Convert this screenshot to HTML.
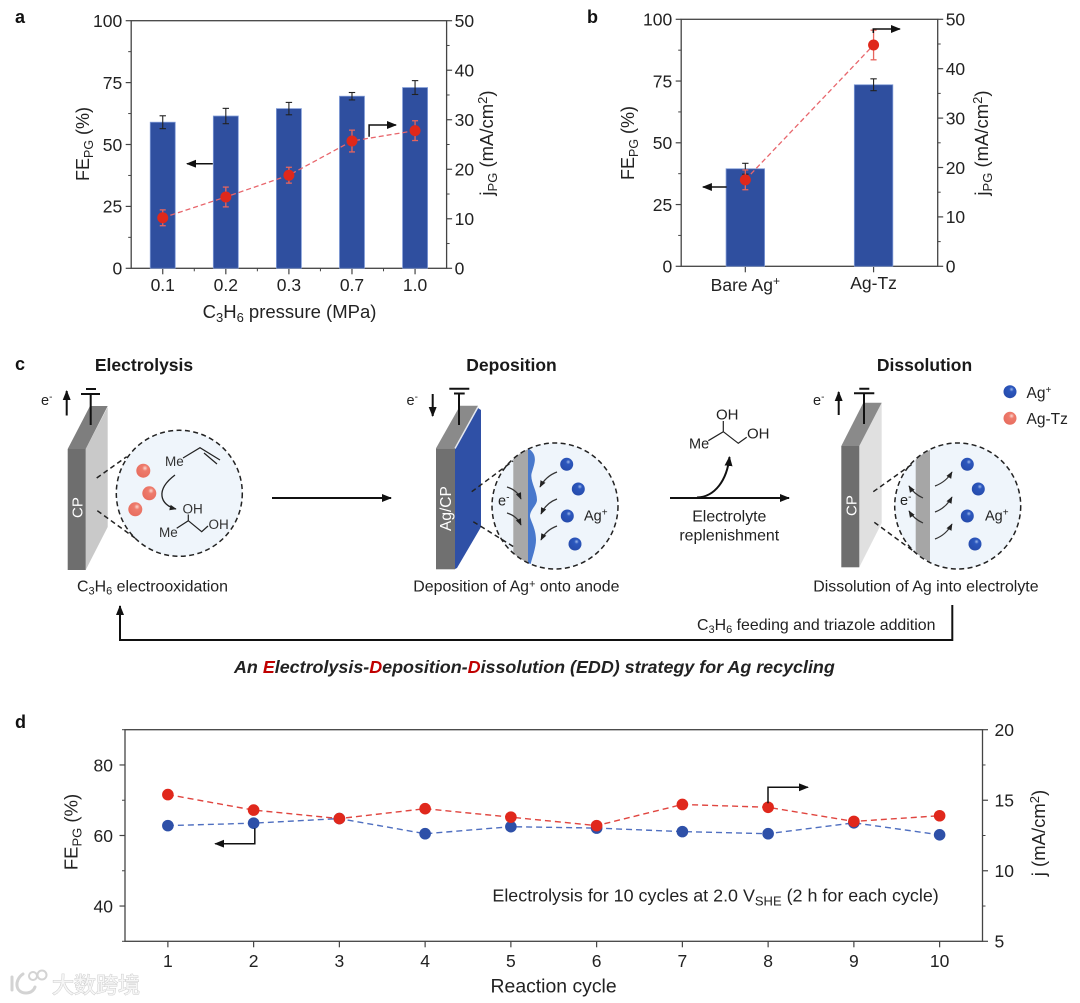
<!DOCTYPE html>
<html lang="en">
<head>
<meta charset="utf-8">
<title>Electrolysis-Deposition-Dissolution strategy for Ag recycling</title>
<style>
html,body{margin:0;padding:0;background:#fff;}
svg{display:block;filter:blur(0.35px);}
text{font-family:"Liberation Sans","Noto Sans CJK SC",sans-serif;fill:#222;}
.pl{font-size:18px;font-weight:bold;fill:#111;}
.h{font-size:17.5px;font-weight:bold;text-anchor:middle;fill:#1a1a1a;}
.cap{font-size:15.9px;fill:#222;}
.t{font-size:14px;fill:#333;}
.ln{stroke:#222;fill:none;stroke-width:1.2;}
.dash{stroke:#222;fill:none;stroke-width:1.5;stroke-dasharray:5 3.4;}
.arr{stroke:#111;fill:none;stroke-width:1.5;marker-end:url(#head);}
.sm{stroke:#333;fill:none;stroke-width:1.2;marker-end:url(#headS);}
</style>
</head>
<body>
<svg id="figure" xmlns="http://www.w3.org/2000/svg" width="1080" height="1003" viewBox="0 0 1080 1003">
<defs>
<marker id="head" viewBox="0 0 10 8" refX="9" refY="4" markerWidth="10" markerHeight="8" markerUnits="userSpaceOnUse" orient="auto"><path d="M0 0L10 4L0 8Z" fill="#111"/></marker>
<marker id="headS" viewBox="0 0 10 8" refX="9" refY="4" markerWidth="7" markerHeight="6" markerUnits="userSpaceOnUse" orient="auto"><path d="M0 0L10 4L0 8Z" fill="#222"/></marker>
<clipPath id="clipDep"><circle cx="555" cy="506" r="63"/></clipPath>
<clipPath id="clipDis"><circle cx="957.7" cy="506" r="62.5"/></clipPath>
<radialGradient id="gBlue" cx="0.62" cy="0.32" r="0.8"><stop offset="0" stop-color="#9db8ea"/><stop offset="0.22" stop-color="#2c57bd"/><stop offset="1" stop-color="#2549a8"/></radialGradient>
<radialGradient id="gPink" cx="0.62" cy="0.32" r="0.8"><stop offset="0" stop-color="#fbd9d2"/><stop offset="0.25" stop-color="#ee7b6c"/><stop offset="1" stop-color="#e66a5c"/></radialGradient>
</defs>

<text class="pl" x="15" y="23">a</text>
<text class="pl" x="587" y="23">b</text>
<text class="pl" x="15" y="370">c</text>
<text class="pl" x="15" y="728">d</text>

<g id="chart-a"></g>
<g id="chart-b"></g>
<g id="chart-d"></g>

<!-- chart titles and annotations -->
<g>
<text x="289.5" y="318" font-size="18.5" text-anchor="middle">C<tspan font-size="13" dy="4">3</tspan><tspan dy="-4">H</tspan><tspan font-size="13" dy="4">6</tspan><tspan dy="-4"> pressure (MPa)</tspan></text>
<text transform="translate(89 144) rotate(-90)" font-size="18" text-anchor="middle">FE<tspan font-size="12.5" dy="4">PG</tspan><tspan dy="-4"> (%)</tspan></text>
<text transform="translate(493 143) rotate(-90)" font-size="18.5" text-anchor="middle">j<tspan font-size="13" dy="4">PG</tspan><tspan dy="-4"> (mA/cm</tspan><tspan font-size="13" dy="-6">2</tspan><tspan dy="6">)</tspan></text>
<path class="arr" d="M212.8 163.7H187"/>
<path class="arr" d="M369.1 136.7V125H396"/>
</g>
<g>
<text transform="translate(634 143) rotate(-90)" font-size="18" text-anchor="middle">FE<tspan font-size="12.5" dy="4">PG</tspan><tspan dy="-4"> (%)</tspan></text>
<text transform="translate(988 143) rotate(-90)" font-size="18.5" text-anchor="middle">j<tspan font-size="13" dy="4">PG</tspan><tspan dy="-4"> (mA/cm</tspan><tspan font-size="13" dy="-6">2</tspan><tspan dy="6">)</tspan></text>
<path class="arr" d="M726.6 187H702.9"/>
<path class="arr" d="M873.3 33V29H899.9"/>
</g>
<g>
<text x="553.6" y="992.5" font-size="19.4" text-anchor="middle">Reaction cycle</text>
<text transform="translate(77.5 832) rotate(-90)" font-size="18.5" text-anchor="middle">FE<tspan font-size="13" dy="4">PG</tspan><tspan dy="-4"> (%)</tspan></text>
<text transform="translate(1045 833) rotate(-90)" font-size="18.5" text-anchor="middle">j (mA/cm<tspan font-size="13" dy="-6">2</tspan><tspan dy="6">)</tspan></text>
<text x="492.4" y="901.7" font-size="17.9">Electrolysis for 10 cycles at 2.0 V<tspan font-size="13" dy="4">SHE</tspan><tspan dy="-4"> (2 h for each cycle)</tspan></text>
<path class="arr" d="M254.8 828.3V843.7H215.2"/>
<path class="arr" d="M768 803.3V787.3H807.9"/>
</g>

<!-- Scheme c: electrolysis -->
<g>
<text class="h" x="144" y="371">Electrolysis</text>
<path d="M85.7 449L107.7 407V527L85.7 570Z" fill="#c9c9c9"/>
<path d="M67.7 449L90 406H107.7L85.7 449Z" fill="#7e7e7e"/>
<rect x="67.7" y="449" width="18" height="121" fill="#6e6e6e"/>
<text transform="translate(82.5 518) rotate(-90)" font-size="15" style="fill:#fff">CP</text>
<path d="M90.7 394V425M81 394H100M86 389H96" stroke="#111" stroke-width="2" fill="none"/>
<text x="41" y="405" font-size="14.5">e<tspan font-size="10" dy="-5">-</tspan></text>
<path d="M66.7 415.5V391" stroke="#111" stroke-width="2" fill="none" marker-end="url(#head)"/>
<circle cx="179.3" cy="493.3" r="63" fill="#eff5fb"/>
<circle class="dash" cx="179.3" cy="493.3" r="63"/>
<path class="dash" d="M96.7 478L126.7 456.7M97.3 510.7L135 538"/>
<circle cx="143.3" cy="470.7" r="7" fill="url(#gPink)"/>
<circle cx="149.3" cy="493.3" r="7" fill="url(#gPink)"/>
<circle cx="135.3" cy="509.3" r="7" fill="url(#gPink)"/>
<text class="t" x="165" y="466" style="font-size:13.5px">Me</text>
<path class="ln" d="M183 458L200 447.7L220 460M204 453L217 464"/>
<path d="M175 475C155 490 160 505 176 509" stroke="#222" stroke-width="1.3" fill="none" marker-end="url(#headS)"/>
<text class="t" x="182.5" y="513.5" style="font-size:13.5px">OH</text>
<text class="t" x="159" y="537" style="font-size:13.5px">Me</text>
<text class="t" x="208.5" y="529" style="font-size:13.5px">OH</text>
<path class="ln" d="M176.7 528.3L188.3 520.7L201.7 531.7L208 526M188.3 520.7V514.5"/>
<text class="cap" x="77" y="591.7">C<tspan font-size="11" dy="3">3</tspan><tspan dy="-3">H</tspan><tspan font-size="11" dy="3">6</tspan><tspan dy="-3"> electrooxidation</tspan></text>
</g>

<path class="arr" style="stroke-width:2" d="M272 498H391"/>

<!-- Scheme c: deposition -->
<g>
<text class="h" x="511.5" y="371">Deposition</text>
<path d="M455 448.5L478 408L481 410V527L457 568L455 569Z" fill="#2f50a6"/>
<path d="M436 448.3L460 405.7H478L455 448.3Z" fill="#8a8a8a"/>
<path d="M455 448.5L478 407" stroke="#e4e8f0" stroke-width="1.5" fill="none"/>
<rect x="436" y="448.3" width="19" height="121" fill="#707070"/>
<text transform="translate(451 531) rotate(-90)" font-size="15.5" style="fill:#fff">Ag/CP</text>
<path d="M459 393V425M454 393.5H464.7M449.3 388.7H469.3" stroke="#111" stroke-width="2" fill="none"/>
<text x="406.5" y="405" font-size="14.5">e<tspan font-size="10" dy="-5">-</tspan></text>
<path d="M432.7 394V416" stroke="#111" stroke-width="2" fill="none" marker-end="url(#head)"/>
<circle cx="555" cy="506" r="63" fill="#eff5fb"/>
<g clip-path="url(#clipDep)">
<rect x="513.3" y="440" width="15" height="130" fill="#a8a8a8"/>
<path d="M528 440V570H529C532 558 536 548 536 540C536 528 530 520 530 516C530 510 537 505 537 500C537 490 529 480 532 472C535 462 538 455 528 448Z" fill="#4878cc"/>
</g>
<circle class="dash" cx="555" cy="506" r="63"/>
<path class="dash" d="M471.7 491.7L513 461M473.3 521.7L514 547"/>
<circle cx="566.7" cy="464.3" r="6.5" fill="url(#gBlue)"/>
<circle cx="578.3" cy="489" r="6.5" fill="url(#gBlue)"/>
<circle cx="567.3" cy="516" r="6.5" fill="url(#gBlue)"/>
<circle cx="575" cy="544" r="6.5" fill="url(#gBlue)"/>
<text x="584" y="520.7" font-size="14.5">Ag<tspan font-size="10" dy="-5">+</tspan></text>
<text x="498" y="505.7" font-size="14.5">e<tspan font-size="10" dy="-5">-</tspan></text>
<path class="sm" d="M557 472Q546 476 540 487"/>
<path class="sm" d="M557 499Q546 503 541 514"/>
<path class="sm" d="M557 526Q546 530 541 540"/>
<path class="sm" d="M507 487Q517 490 521 499"/>
<path class="sm" d="M507 513Q517 516 521 525"/>
<text class="cap" x="413.3" y="591.7">Deposition of Ag<tspan font-size="11" dy="-4">+</tspan><tspan dy="4"> onto anode</tspan></text>
</g>

<!-- Scheme c: replenishment -->
<g>
<path class="arr" style="stroke-width:2" d="M670 498H789"/>
<path d="M697 497.5C715 497 727 480 729.5 457" stroke="#111" stroke-width="2" fill="none" marker-end="url(#head)"/>
<text x="716" y="419.5" font-size="15">OH</text>
<text x="689" y="448.5" font-size="14.5">Me</text>
<text x="747" y="438.5" font-size="15">OH</text>
<path class="ln" d="M708.3 440.7L723.3 431.7L738.3 443.3L746.7 437.3M723.3 431.7V421"/>
<text class="cap" x="729.3" y="521.7" text-anchor="middle">Electrolyte</text>
<text class="cap" x="729.3" y="540.7" text-anchor="middle">replenishment</text>
</g>

<!-- Scheme c: dissolution -->
<g>
<text class="h" x="924.5" y="371">Dissolution</text>
<path d="M859.3 446L881.7 402.7V523L859.3 567.3Z" fill="#e0e0e0"/>
<path d="M841.3 446L863.3 402.7H881.7L859.3 446Z" fill="#8a8a8a"/>
<rect x="841.3" y="446" width="18" height="121.3" fill="#6e6e6e"/>
<text transform="translate(856.7 516) rotate(-90)" font-size="15" style="fill:#fff">CP</text>
<path d="M864 393V424M854 393.3H874.3M859.3 388.7H869.3" stroke="#111" stroke-width="2" fill="none"/>
<text x="813" y="405" font-size="14.5">e<tspan font-size="10" dy="-5">-</tspan></text>
<path d="M838.7 415V392" stroke="#111" stroke-width="2" fill="none" marker-end="url(#head)"/>
<circle cx="957.7" cy="506" r="63" fill="#eff5fb"/>
<g clip-path="url(#clipDis)"><rect x="915.7" y="440" width="14.3" height="130" fill="#a6a6a6"/></g>
<circle class="dash" cx="957.7" cy="506" r="63"/>
<path class="dash" d="M873.3 491.7L913.3 463.3M874.3 522.3L913.3 551"/>
<circle cx="967.3" cy="464.3" r="6.5" fill="url(#gBlue)"/>
<circle cx="978.3" cy="489" r="6.5" fill="url(#gBlue)"/>
<circle cx="967.3" cy="516" r="6.5" fill="url(#gBlue)"/>
<circle cx="975" cy="544" r="6.5" fill="url(#gBlue)"/>
<text x="985" y="520.7" font-size="14.5">Ag<tspan font-size="10" dy="-5">+</tspan></text>
<text x="900" y="505" font-size="14.5">e<tspan font-size="10" dy="-5">-</tspan></text>
<path class="sm" d="M935 486Q946 482 952 472"/>
<path class="sm" d="M935 512Q946 508 952 497"/>
<path class="sm" d="M935 539Q946 535 952 524"/>
<path class="sm" d="M923 498Q914 494 909 486"/>
<path class="sm" d="M923 523Q914 519 909 511"/>
<text class="cap" x="813.3" y="591.7">Dissolution of Ag into electrolyte</text>
<circle cx="1010" cy="391.7" r="6.5" fill="url(#gBlue)"/>
<text x="1026.5" y="398" font-size="15.5">Ag<tspan font-size="10" dy="-5">+</tspan></text>
<circle cx="1010" cy="418.3" r="6.5" fill="url(#gPink)"/>
<text x="1026.5" y="424" font-size="15.5">Ag-Tz</text>
</g>

<path d="M952.3 605V640H120V606" stroke="#111" stroke-width="2" fill="none" marker-end="url(#head)"/>
<text class="cap" x="697" y="630">C<tspan font-size="11" dy="3">3</tspan><tspan dy="-3">H</tspan><tspan font-size="11" dy="3">6</tspan><tspan dy="-3"> feeding and triazole addition</tspan></text>
<text x="234" y="673" font-size="17.9" font-weight="bold" font-style="italic">An <tspan style="fill:#c00000">E</tspan>lectrolysis-<tspan style="fill:#c00000">D</tspan>eposition-<tspan style="fill:#c00000">D</tspan>issolution (EDD) strategy for Ag recycling</text>

<!-- watermark -->
<g opacity="0.9">
<path d="M12 977V990M23 974C14 980 15 993 26 993C31 993 34 990 35 987" stroke="#cfcfcf" stroke-width="3" fill="none" stroke-linecap="round"/>
<circle cx="33" cy="976" r="4" stroke="#cfcfcf" stroke-width="2" fill="none"/>
<circle cx="42" cy="975" r="4.5" stroke="#cfcfcf" stroke-width="2" fill="none"/>
<text x="52" y="993" font-size="22" style="fill:#f6f6f6;stroke:#c8c8c8;stroke-width:1;paint-order:stroke">大数跨境</text>
</g>
</svg>

<script>
// Panel a data
const pressureLabels = ['0.1', '0.2', '0.3', '0.7', '1.0'];
const pressureFE = [59, 61.5, 64.5, 69.5, 73];
const pressureFEErr = [2.6, 3.1, 2.5, 1.5, 2.8];
const pressureJ = [10.2, 14.4, 18.8, 25.7, 27.8];
const pressureJErr = [1.6, 2.0, 1.6, 2.2, 2.0];
const feTicksA = [0, 25, 50, 75, 100];
const jTicksA = [0, 10, 20, 30, 40, 50];

// Panel b data
const catalystLabels = ['Bare Ag+', 'Ag-Tz'];
const catalystFE = [39.5, 73.5];
const catalystFEErr = [2.2, 2.4];
const catalystJ = [17.5, 44.8];
const catalystJErr = [2.0, 3.0];
const feTicksB = [0, 25, 50, 75, 100];
const jTicksB = [0, 10, 20, 30, 40, 50];

// Panel d data
const cycleLabels = ['1', '2', '3', '4', '5', '6', '7', '8', '9', '10'];
const cycleFE = [62.8, 63.5, 64.8, 60.5, 62.5, 62.1, 61.1, 60.5, 63.6, 60.2];
const cycleJ = [15.4, 14.3, 13.7, 14.4, 13.8, 13.2, 14.7, 14.5, 13.5, 13.9];
const feTicksD = [40, 60, 80];
const jTicksD = [5, 10, 15, 20];

const NS = 'http://www.w3.org/2000/svg';
const AXIS = '#444';
function mk(parent, tag, props) {
  const el = document.createElementNS(NS, tag);
  for (const k in props) el.setAttribute(k, props[k]);
  parent.appendChild(el);
  return el;
}
function linear(d0, d1, r0, r1) {
  return v => r0 + (v - d0) / (d1 - d0) * (r1 - r0);
}
function seg(parent, x1, y1, x2, y2, color, width, name) {
  const el = mk(parent, 'line', { x1, y1, x2, y2, stroke: color, 'stroke-width': width });
  
  
  return el;
}
function label(parent, x, y, str, size, anchor, name) {
  const el = mk(parent, 'text', { x, y, 'font-size': size, 'text-anchor': anchor });
  el.textContent = str;
  
  
  return el;
}
function frame(g, box) {
  const el = mk(g, 'rect', { x: box.l, y: box.t, width: box.r - box.l, height: box.b - box.t, fill: 'none', stroke: AXIS, 'stroke-width': 1.3 });
  
  
}
function yAxis(g, side, scale, ticks, minors, box, size, gap, prefix) {
  const x0 = side === 'left' ? box.l : box.r;
  const dir = side === 'left' ? -1 : 1;
  ticks.forEach(v => {
    seg(g, x0, scale(v), x0 + dir * 5.5, scale(v), AXIS, 1.2, prefix + '-tick');
    label(g, x0 + dir * gap, scale(v) + size * 0.36, String(v), size, side === 'left' ? 'end' : 'start', prefix + '-tick-label');
  });
  minors.forEach(v => {
    seg(g, x0, scale(v), x0 + dir * 3, scale(v), AXIS, 1, prefix + '-minor-tick');
  });
}
function xTicks(g, scale, count, minor, box, prefix) {
  for (let i = 1; i <= count; i++) {
    seg(g, scale(i), box.b, scale(i), box.b + 6, AXIS, 1.2, prefix + '-tick');
    if (minor && i < count) seg(g, scale(i + 0.5), box.b, scale(i + 0.5), box.b + 3, AXIS, 1, prefix + '-minor-tick');
  }
}
function errorBar(g, x, yHi, yLo, cap, color, width, name) {
  seg(g, x, yHi, x, yLo, color, width, name);
  seg(g, x - cap, yHi, x + cap, yHi, color, width, name + '-cap');
  seg(g, x - cap, yLo, x + cap, yLo, color, width, name + '-cap');
}
function dashedLine(g, xs, ys, color, width, dash, name) {
  const el = mk(g, 'polyline', { points: xs.map((x, i) => x + ',' + ys[i]).join(' '), fill: 'none', stroke: color, 'stroke-width': width, 'stroke-dasharray': dash });
  
  
}
function dot(g, x, y, r, color, name) {
  const el = mk(g, 'circle', { cx: x, cy: y, r, fill: color });
  
  
}
function barChart(g, box, cats, fe, feErr, j, jErr, feT, jT, barW, prefix) {
  const x = linear(0.5, cats.length + 0.5, box.l, box.r);
  const yL = linear(0, 100, box.b, box.t);
  const yR = linear(0, 50, box.b, box.t);
  frame(g, box);
  yAxis(g, 'left', yL, feT, [12.5, 37.5, 62.5, 87.5], box, 17.5, 9, 'fe-axis');
  yAxis(g, 'right', yR, jT, [5, 15, 25, 35, 45], box, 17.5, 8, 'j-axis');
  xTicks(g, x, cats.length, cats.length > 2, box, 'x-axis');
  fe.forEach((v, i) => {
    const el = mk(g, 'rect', { x: x(i + 1) - barW / 2, y: yL(v), width: barW, height: box.b - yL(v), fill: '#2f4f9f', stroke: '#7f9ad6', 'stroke-width': 0.8 });
    
    
    errorBar(g, x(i + 1), yL(v + feErr[i]), yL(v - feErr[i]), 3.2, '#222', 1.1, 'bar-error');
  });
  dashedLine(g, fe.map((_, i) => x(i + 1)), j.map(yR), '#e8666c', 1.3, '5 3', 'j-trend-line');
  j.forEach((v, i) => {
    errorBar(g, x(i + 1), yR(v + jErr[i]), yR(v - jErr[i]), 3, '#e6655e', 1.3, 'j-error');
    dot(g, x(i + 1), yR(v), 5.5, '#df281b', 'j-point');
  });
  return x;
}

// Panel a
const gA = document.getElementById('chart-a');
const boxA = { l: 131.2, r: 446.6, t: 20.7, b: 268.3 };
const xA = barChart(gA, boxA, pressureLabels, pressureFE, pressureFEErr, pressureJ, pressureJErr, feTicksA, jTicksA, 25, 'pressure');
pressureLabels.forEach((s, i) => {
  label(gA, xA(i + 1), 291, s, 17.5, 'middle', 'x-tick-label');
});

// Panel b
const gB = document.getElementById('chart-b');
const boxB = { l: 681.2, r: 937.7, t: 19.3, b: 266.3 };
const xB = barChart(gB, boxB, catalystLabels, catalystFE, catalystFEErr, catalystJ, catalystJErr, feTicksB, jTicksB, 38.5, 'catalyst');
catalystLabels.forEach((s, i) => {
  const el = label(gB, xB(i + 1), i === 0 ? 291 : 289, s.replace('+', ''), 17.5, 'middle', 'x-tick-label');
  if (s.endsWith('+')) {
    const sup = mk(el, 'tspan', { dy: -6, 'font-size': 12 });
    sup.textContent = '+';
  }
});

// Panel d
const gD = document.getElementById('chart-d');
const boxD = { l: 125, r: 982.5, t: 729.7, b: 941.3 };
const xD = linear(0.5, 10.5, boxD.l, boxD.r);
const yFE = linear(30, 90, boxD.b, boxD.t);
const yJ = linear(5, 20, boxD.b, boxD.t);
frame(gD, boxD);
yAxis(gD, 'left', yFE, feTicksD, [30, 50, 70, 90], boxD, 17.5, 12, 'fe-axis');
yAxis(gD, 'right', yJ, jTicksD, [7.5, 12.5, 17.5], boxD, 17.5, 12, 'j-axis');
xTicks(gD, xD, cycleLabels.length, false, boxD, 'x-axis');
cycleLabels.forEach((s, i) => {
  label(gD, xD(i + 1), 967, s, 17.5, 'middle', 'x-tick-label');
});
const xsD = cycleLabels.map((_, i) => xD(i + 1));
dashedLine(gD, xsD, cycleFE.map(yFE), '#4f6fc0', 1.4, '6 4', 'fe-trend-line');
dashedLine(gD, xsD, cycleJ.map(yJ), '#e0453f', 1.4, '6 4', 'j-trend-line');
cycleFE.forEach((v, i) => {
  dot(gD, xD(i + 1), yFE(v), 5.8, '#2e50a8', 'fe-point');
});
cycleJ.forEach((v, i) => {
  dot(gD, xD(i + 1), yJ(v), 5.8, '#e0281c', 'j-point');
});
</script>
</body>
</html>
